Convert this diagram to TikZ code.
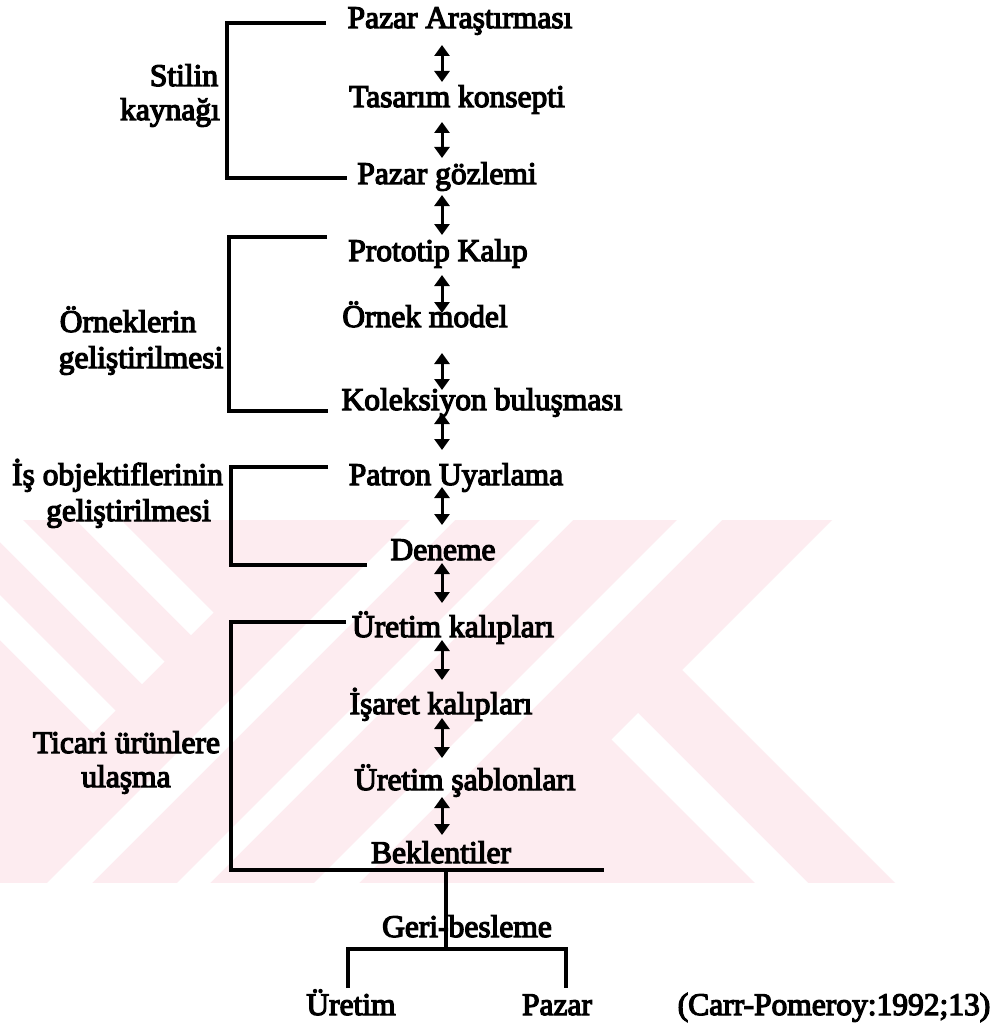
\documentclass[tikz,border=0pt]{standalone}
\usepackage{fontspec}
\newfontfamily\diag{Liberation Serif}[BoldFont={Liberation Serif},BoldFeatures={FakeBold=4}]
\usetikzlibrary{arrows.meta,calc}
\definecolor{wm}{RGB}{253,236,240}
\newcommand\darr[4]{\draw[dbl] ($(#1.base -| ax)+(0,#2)$) -- ($(#3.base -| ax)+(0,-#4)$);}
\begin{document}
\begin{tikzpicture}[x=1pt,y=-1pt,
  lbl/.style={anchor=base,inner sep=0pt,font=\diag\bfseries\fontsize{31.5}{34}\selectfont},
  brk/.style={line width=3.4pt,line join=miter},
  dbl/.style={line width=3pt,{Triangle[width=15pt,length=11pt]}-{Triangle[width=15pt,length=11pt]}}]
\useasboundingbox (0,0) rectangle (1005,1027);
\fill[white] (0,0) rectangle (1005,1027);
% watermark
\begin{scope}
\clip (0,520) -- (832,520) -- (682,670) -- (895,883) -- (0,883) -- cycle;
\fill[wm] (0,520) rectangle (1005,883);
\fill[white] (677,520) -- (722,520) -- (359,883) -- (314,883) -- cycle;
\fill[white] (540,520) -- (573,520) -- (210,883) -- (177,883) -- cycle;
\fill[white] (410,520) -- (455,520) -- (92,883) -- (47,883) -- cycle;
\fill[white] (638,713) -- (808,883) -- (755,883) -- (611.5,739.5) -- cycle;
\fill[white] (76,520) -- (121,520) -- (213.5,612.5) -- (191,635) -- cycle;
\fill[white] (0,520) -- (23,520) -- (164.5,661.5) -- (142,684) -- (0,542) -- cycle;
\fill[white] (0,595) -- (115.5,710.5) -- (93,733) -- (0,640) -- cycle;
\end{scope}
\coordinate (ax) at (442,0);
% main column
\node[lbl] (n1) at (460,28) {Pazar Araştırması};
\node[lbl] (n2) at (457,107) {Tasarım konsepti};
\node[lbl] (n3) at (447,184) {Pazar gözlemi};
\node[lbl] (n4) at (438,261) {Prototip Kalıp};
\node[lbl] (n5) at (425,327) {Örnek model};
\node[lbl] (n6) at (482,410) {Koleksiyon buluşması};
\node[lbl] (n7) at (456,485) {Patron Uyarlama};
\node[lbl] (n8) at (443,560) {Deneme};
\node[lbl] (n9) at (453,637) {Üretim kalıpları};
\node[lbl] (n10) at (441,714) {İşaret kalıpları};
\node[lbl] (n11) at (465,790) {Üretim şablonları};
\node[lbl] (n12) at (441,863) {Beklentiler};
\node[lbl] (n13) at (467,937) {Geri-besleme};
\node[lbl] (n14) at (351,1015) {Üretim};
\node[lbl] (n15) at (557,1015) {Pazar};
\node[lbl] (n16) at (834,1015) {(Carr-Pomeroy:1992;13)};
% left labels
\node[lbl] (s1) at (184,86) {Stilin};
\node[lbl] (s2) at (170,120) {kaynağı};
\node[lbl] (o1) at (128,332) {Örneklerin};
\node[lbl] (o2) at (141,368) {geliştirilmesi};
\node[lbl] (i1) at (117.5,485) {İş objektiflerinin};
\node[lbl] (i2) at (128.5,521) {geliştirilmesi};
\node[lbl] (t1) at (126.5,753) {Ticari ürünlere};
\node[lbl] (t2) at (126,787) {ulaşma};
% arrows
\darr{n1}{17}{n2}{25}
\darr{n2}{15}{n3}{26}
\darr{n3}{11}{n4}{26}
\darr{n4}{14}{n5}{14}
\darr{n5}{26}{n6}{20}
\darr{n6}{3}{n7}{35}
\darr{n7}{2}{n8}{35}
\darr{n8}{3}{n9}{34}
\darr{n9}{3}{n10}{34}
\darr{n10}{4}{n11}{32}
\darr{n11}{7}{n12}{28}
% brackets
\coordinate (a1) at (326,23); \coordinate (a2) at (227,23);
\coordinate (a3) at (227,178); \coordinate (a4) at (347,178);
\draw[brk] (a1) -- (a2) -- (a3) -- (a4);
\coordinate (b1) at (327,237); \coordinate (b2) at (229,237);
\coordinate (b3) at (229,411); \coordinate (b4) at (328,411);
\draw[brk] (b1) -- (b2) -- (b3) -- (b4);
\coordinate (c1) at (328,467); \coordinate (c2) at (231,467);
\coordinate (c3) at (231,565); \coordinate (c4) at (367,565);
\draw[brk] (c1) -- (c2) -- (c3) -- (c4);
\coordinate (d1) at (346,622); \coordinate (d2) at (231,622);
\coordinate (d3) at (231,870); \coordinate (d4) at (604,870);
\draw[brk] (d1) -- (d2) -- (d3) -- (d4);
% feedback
\coordinate (f1) at (446,870); \coordinate (f2) at (446,949);
\draw[brk] (f1) -- (f2);
\coordinate (g1) at (348,988); \coordinate (g2) at (348,949);
\coordinate (g3) at (566,949); \coordinate (g4) at (566,988);
\draw[brk] (g1) -- (g2) -- (g3) -- (g4);
\end{tikzpicture}
\end{document}
